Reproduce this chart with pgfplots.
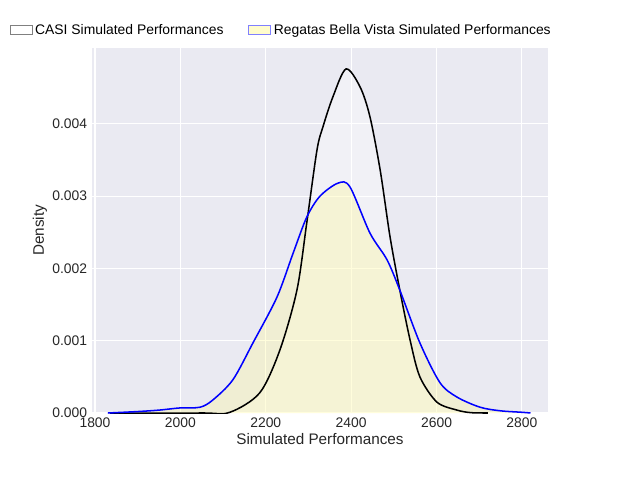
\documentclass[border=0pt]{standalone}
\usepackage{pgfplots}
\pgfplotsset{compat=1.18}
\usepackage{fontspec}
\setmainfont{Liberation Sans}
\definecolor{sbbg}{HTML}{EAEAF2}
\begin{document}
\begin{tikzpicture}
\path (-66.24pt,-48.24pt) rectangle ++(460.8pt,345.6pt);
\begin{axis}[
  at={(0,0)}, anchor=south west,
  scale only axis, width=328.3pt, height=262.8pt,
  xmin=1793, xmax=2861, ymin=0, ymax=0.00505,
  axis background/.style={fill=sbbg},
  axis line style={draw=none},
  major tick length=0pt,
  grid=major, grid style={white, line width=0.8pt},
  xtick={1800,2000,2200,2400,2600,2800},
  ytick={0,0.001,0.002,0.003,0.004},
  scaled y ticks=false,
  yticklabel style={/pgf/number format/.cd, fixed, precision=3, zerofill},
  /pgf/number format/assume math mode=true,
  /pgf/number format/1000 sep={},
  ticklabel style={font=\fontsize{10}{12}\selectfont, text=black!85},
  xlabel={Simulated Performances}, ylabel={Density},
  label style={font=\fontsize{11}{13}\selectfont, text=black!85},
  xlabel style={yshift=3pt}, ylabel style={yshift=-3pt},
  legend columns=2,
  legend style={at={(-0.19,1.049)}, anchor=west, draw=none, fill=none,
    font=\fontsize{10}{12}\selectfont, /tikz/every even column/.append style={column sep=16pt}},
  legend image code/.code={\draw[#1] (0cm,-0.1cm) rectangle (0.55cm,0.12cm);},
]
\addplot[draw=none, fill=white, fill opacity=0.35, smooth, forget plot] coordinates {
(1835,0) (2050,0) (2116,0.00001) (2186,0.00028) (2233,0.00087) (2273,0.0017) (2296,0.00263) (2320,0.00364) (2334,0.00396) (2357,0.00437) (2388,0.00476) (2421,0.00451) (2444,0.0041) (2468,0.00336) (2491,0.00244) (2514,0.0017) (2538,0.00101) (2561,0.0005) (2601,0.00015) (2648,0.00004) (2680,0.000005) (2720,0)} \closedcycle;
\addplot[draw=none, fill=yellow!45!white, fill opacity=0.3, smooth, forget plot] coordinates {
(1830,0) (1900,0.00002) (1950,0.00004) (1999,0.00007) (2046,0.00008) (2076,0.00018) (2123,0.00046) (2170,0.00097) (2226,0.0016) (2264,0.00221) (2296,0.00271) (2327,0.003) (2369,0.00318) (2397,0.00313) (2444,0.00249) (2484,0.00212) (2514,0.0017) (2561,0.00097) (2608,0.00042) (2648,0.00022) (2702,0.00008) (2750,0.00003) (2800,0.00001) (2820,0)} \closedcycle;
\addlegendimage{draw=gray, fill=white, line width=0.6pt}
\addlegendentry{CASI Simulated Performances}
\addlegendimage{draw=blue!50, fill=yellow!20, line width=0.6pt}
\addlegendentry{Regatas Bella Vista Simulated Performances}
\addplot[black, line width=1.1pt, smooth, forget plot] coordinates {
(1835,0) (2050,0) (2116,0.00001) (2186,0.00028) (2233,0.00087) (2273,0.0017) (2296,0.00263) (2320,0.00364) (2334,0.00396) (2357,0.00437) (2388,0.00476) (2421,0.00451) (2444,0.0041) (2468,0.00336) (2491,0.00244) (2514,0.0017) (2538,0.00101) (2561,0.0005) (2601,0.00015) (2648,0.00004) (2680,0.000005) (2720,0)};
\addplot[blue, line width=1.1pt, smooth, forget plot] coordinates {
(1830,0) (1900,0.00002) (1950,0.00004) (1999,0.00007) (2046,0.00008) (2076,0.00018) (2123,0.00046) (2170,0.00097) (2226,0.0016) (2264,0.00221) (2296,0.00271) (2327,0.003) (2369,0.00318) (2397,0.00313) (2444,0.00249) (2484,0.00212) (2514,0.0017) (2561,0.00097) (2608,0.00042) (2648,0.00022) (2702,0.00008) (2750,0.00003) (2800,0.00001) (2820,0)};
\end{axis}
\end{tikzpicture}
\end{document}
